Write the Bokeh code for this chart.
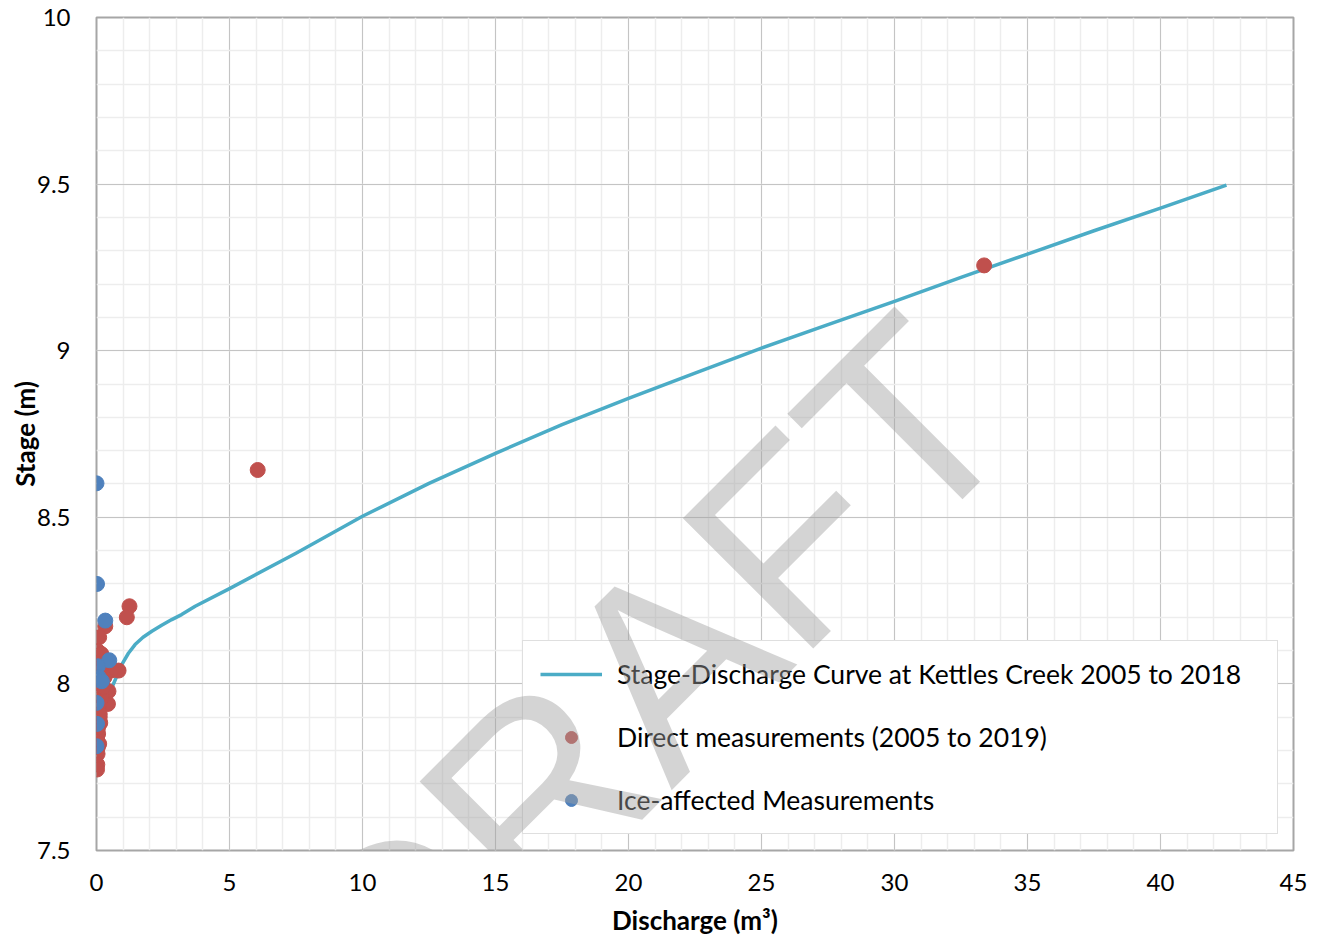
from bokeh.plotting import figure
from bokeh.models import (FixedTicker, CustomJSTickFormatter, Legend, LegendItem,
                          Label, ColumnDataSource)
from bokeh.embed import file_html
from bokeh.resources import INLINE
try:
    from bokeh.models import HTMLLabel as WMLabel
except Exception:  # fallback
    WMLabel = Label

# ---------------- data ----------------
curve_x = [0.60, 0.95, 1.20, 1.45, 1.75, 2.08, 2.45, 2.83, 3.20, 3.71, 5.0, 7.5,
           10.0, 12.5, 15.0, 17.5, 20.0, 22.5, 25.0, 27.5, 30.0, 32.5, 35.0, 37.5,
           40.0, 42.48]
curve_y = [7.993, 8.058, 8.092, 8.118, 8.140, 8.158, 8.176, 8.193, 8.208, 8.233,
           8.286, 8.392, 8.503, 8.602, 8.692, 8.778, 8.857, 8.933, 9.008, 9.078,
           9.148, 9.220, 9.290, 9.360, 9.428, 9.497]

direct_x = [33.37, 6.06, 1.24, 1.14, 0.33, 0.10, 0.05, 0.02, 0.04, 0.83, 0.55,
            0.30, 0.45, 0.43, 0.20, 0.14, 0.08, 0.12, 0.03, 0.06, 0.02, 0.05,
            0.10, 0.04, 0.03, 0.02, 0.08, 0.15, 0.25, 0.06, 0.18, 0.12]
direct_y = [9.256, 8.642, 8.233, 8.200, 8.173, 8.140, 8.098, 8.078, 8.063, 8.040,
            8.040, 8.020, 7.978, 7.940, 7.960, 7.883, 7.930, 7.900, 7.860, 7.850,
            7.833, 7.810, 7.820, 7.790, 7.758, 7.743, 8.000, 8.050, 7.990, 7.870,
            8.090, 7.910]

ice_x = [0.00, 0.02, 0.33, 0.48, 0.05, 0.08, 0.00, 0.20, 0.00, 0.02, 0.00]
ice_y = [8.602, 8.300, 8.190, 8.071, 8.053, 8.020, 8.013, 8.008, 7.943, 7.880, 7.813]

x_ticks = [0, 5, 10, 15, 20, 25, 30, 35, 40, 45]
y_ticks = [7.5, 8.0, 8.5, 9.0, 9.5, 10.0]
x_minor = [float(v) for v in range(0, 46)]
y_minor = [round(7.5 + 0.1 * k, 2) for k in range(0, 26)]

series_names = ["Stage-Discharge Curve at Kettles Creek 2005 to 2018",
                "Direct measurements (2005 to 2019)",
                "Ice-affected Measurements"]
x_title = "Discharge (m³)"
y_title = "Stage (m)"
watermark_text = "DRAFT"

# ---------------- figure ----------------
FONT = "Lato"
W, H = 1317, 939
p = figure(width=W, height=H, x_range=(0, 45), y_range=(7.5, 10),
           output_backend="svg", toolbar_location=None,
           min_border_left=96, min_border_right=24, min_border_top=17,
           min_border_bottom=89)
p.background_fill_color = "white"
p.border_fill_color = "white"
p.outline_line_color = "#a6a6a6"
p.outline_line_width = 2

xt = FixedTicker(ticks=x_ticks, minor_ticks=x_minor)
yt = FixedTicker(ticks=y_ticks, minor_ticks=y_minor)
p.xaxis.ticker = xt
p.yaxis.ticker = yt
p.xgrid.ticker = xt
p.ygrid.ticker = yt
p.xaxis.formatter = CustomJSTickFormatter(code="return tick.toString();")
p.yaxis.formatter = CustomJSTickFormatter(code="return tick.toString();")

for g in (p.xgrid, p.ygrid):
    g.grid_line_color = "#c4c4c4"
    g.grid_line_width = 1
    g.minor_grid_line_color = "#ededed"
    g.minor_grid_line_width = 1.5

for ax in (p.xaxis, p.yaxis):
    ax.axis_line_color = None
    ax.major_tick_line_color = None
    ax.minor_tick_line_color = None
    ax.major_tick_out = 0
    ax.major_label_text_font = FONT
    ax.major_label_text_font_size = "24px"
    ax.major_label_text_color = "black"
    ax.axis_label_text_font = FONT
    ax.axis_label_text_font_size = "26px"
    ax.axis_label_text_font_style = "bold"
    ax.axis_label_text_color = "black"

p.xaxis.axis_label = x_title
p.yaxis.axis_label = y_title
p.xaxis.major_label_standoff = 19
p.xaxis.axis_label_standoff = 10
p.yaxis.major_label_standoff = 22
p.yaxis.axis_label_standoff = -7

# ---------------- series ----------------
src_curve = ColumnDataSource(dict(x=curve_x, y=curve_y))
src_direct = ColumnDataSource(dict(x=direct_x, y=direct_y))
src_ice = ColumnDataSource(dict(x=ice_x, y=ice_y))

r_curve = p.line("x", "y", source=src_curve, line_color="#4bacc6", line_width=3.5,
                 line_join="round")
r_direct = p.scatter("x", "y", source=src_direct, size=15, marker="circle",
                     fill_color="#c0504d", line_color="#c0504d")
r_ice = p.scatter("x", "y", source=src_ice, size=15, marker="circle",
                  fill_color="#4f81bd", line_color="#4f81bd")

legend = Legend(items=[LegendItem(label=series_names[0], renderers=[r_curve]),
                       LegendItem(label=series_names[1], renderers=[r_direct]),
                       LegendItem(label=series_names[2], renderers=[r_ice])],
                location=(426, 16))
legend.border_line_color = "#bfbfbf"
legend.border_line_width = 1.5
legend.background_fill_color = "white"
legend.background_fill_alpha = 1
legend.padding = 17
legend.spacing = 31
legend.glyph_height = 30
legend.glyph_width = 62
legend.label_height = 30
legend.label_width = 643
legend.label_standoff = 15
legend.margin = 0
legend.label_text_font = FONT
legend.label_text_font_size = "26.5px"
legend.label_text_color = "black"
p.add_layout(legend)

wm = WMLabel(x=20.74, y=8.0, text=watermark_text, angle=45, angle_units="deg",
             text_font=FONT, text_font_size="268px", text_color="#a0a0a0",
             text_alpha=0.45, text_align="center", text_baseline="alphabetic",
             level="overlay")
p.add_layout(wm)

open("out.html", "w").write(file_html(p, INLINE))
